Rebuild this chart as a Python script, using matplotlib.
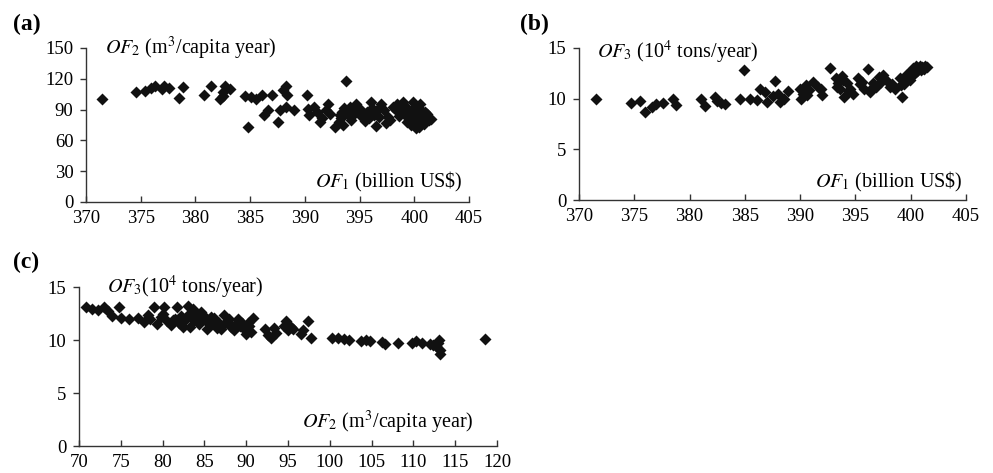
import numpy as np
import matplotlib
matplotlib.use('Agg')
import matplotlib.pyplot as plt

plt.rcParams['font.family'] = ['Liberation Serif', 'DejaVu Serif']
plt.rcParams['mathtext.fontset'] = 'stix'

# (a) OF1 vs OF2
a_of1 = [371.5, 374.6, 375.4, 375.9, 376.3, 376.9, 377.1, 377.6, 378.5, 378.9,
         380.8, 381.4, 382.2, 382.5, 382.7, 383.2, 382.5,
         384.5, 384.8, 385.1, 385.5, 386.1, 386.3, 386.6, 387.0, 387.5, 387.7,
         388.0, 388.3, 388.4, 388.3, 389.0,
         390.2, 390.3, 390.4, 390.8, 391.1, 391.4, 391.6, 391.9, 392.1, 392.3,
         392.8, 393.1, 393.3, 393.4, 393.6, 393.8, 394.0, 394.2, 394.4, 394.7,
         395.0, 395.2, 395.5, 395.7, 396.0, 396.1, 396.3, 396.5, 396.8, 397.0,
         397.2, 397.4, 397.8, 398.1, 398.4, 398.7, 399.0, 399.2, 399.4, 399.6,
         399.7, 399.9, 400.0, 400.1, 400.2, 400.3, 400.4, 400.6, 400.7, 400.8,
         400.9, 401.0, 401.1, 401.3, 401.5, 400.5, 399.5, 398.8, 400.2,
         393.2, 393.9, 394.6, 395.9, 396.6, 397.6, 398.3, 399.1, 399.8, 400.4,
         400.9, 401.2, 399.3, 398.6, 400.0, 393.5, 394.1]
a_of2 = [100, 107, 108, 111, 113, 110, 113, 111, 101, 112,
         104, 113, 100, 107, 113, 110, 103,
         103, 73, 102, 100, 104, 85, 90, 104, 78, 90,
         109, 113, 104, 93, 90,
         104, 91, 85, 93, 88, 78, 82, 90, 95, 86,
         73, 78, 82, 88, 92, 118, 85, 80, 90, 95,
         91, 83, 79, 88, 97, 92, 85, 74, 83, 95,
         90, 77, 80, 93, 95, 92, 97, 93, 89, 84,
         75, 97, 92, 88, 84, 79, 73, 90, 86, 82,
         76, 88, 84, 80, 81, 95, 80, 88, 72,
         85, 90, 87, 82, 90, 83, 90, 86, 80, 76,
         79, 86, 78, 84, 78, 75, 93]

# (b) OF1 vs OF3
b_of1 = [371.5, 374.7, 375.5, 376.0, 376.6, 377.0, 377.6, 378.5, 378.8, 381.0,
         381.4, 382.3, 382.5, 382.8, 383.2, 384.6, 384.9, 385.5, 386.1, 386.4,
         386.8, 387.0, 387.5, 387.7, 388.0, 388.2, 388.5, 388.9,
         390.0, 390.1, 390.3, 390.5, 390.8, 391.2, 391.6, 392.0, 392.7, 393.2,
         393.4, 393.6, 393.8, 394.0, 394.2, 394.5, 394.8, 395.2, 395.4, 395.8,
         396.1, 396.3, 396.6, 396.9, 397.1, 397.5, 397.8, 398.1, 398.6, 399.0,
         399.2, 399.4, 399.7, 399.9, 400.0, 400.2, 400.3, 400.5, 400.6, 400.8,
         401.0, 401.2, 401.3, 401.5, 400.9,
         393.3, 393.9, 394.4, 395.6, 396.4, 397.3, 398.3, 399.6, 400.1, 400.4,
         400.7, 401.1, 399.1, 391.9, 390.6]
b_of3 = [10.0, 9.6, 9.8, 8.7, 9.2, 9.5, 9.6, 10.0, 9.4, 10.0,
         9.3, 10.2, 9.8, 9.6, 9.5, 10.0, 12.8, 10.0, 9.9, 11.0,
         10.7, 9.7, 10.3, 11.7, 10.5, 9.7, 10.0, 10.8,
         11.0, 10.0, 10.5, 11.3, 10.9, 11.6, 11.2, 10.4, 13.0, 12.0,
         11.5, 11.0, 12.2, 10.2, 11.5, 11.0, 10.5, 12.0, 11.4, 11.0,
         12.9, 10.7, 11.5, 11.2, 12.1, 12.3, 11.8, 11.2, 11.0, 12.0,
         10.2, 11.4, 12.4, 11.8, 12.7, 13.0, 12.4, 13.2, 12.7, 13.2,
         13.1, 12.9, 13.2, 13.1, 12.8,
         11.2, 11.8, 10.8, 11.6, 11.0, 11.6, 11.4, 12.1, 12.3, 12.9,
         13.0, 13.0, 11.3, 11.0, 10.4]

# (c) OF2 vs OF3
c_of2 = [70.8, 71.5, 72.3, 73.0, 73.5, 74.0, 74.8, 75.0, 76.0, 77.0,
         77.8, 78.2, 79.0, 79.3, 79.8, 80.2, 80.5, 81.0, 81.5, 81.7,
         82.0, 82.5, 83.0, 83.2, 83.3, 83.6, 84.0, 84.3, 85.0, 85.3,
         85.8, 86.0, 86.5, 87.0, 87.4, 87.8, 88.2, 88.5, 89.0, 89.3,
         89.7, 90.0, 90.3, 90.8, 90.6, 92.2, 92.6, 93.0, 93.3, 94.5,
         94.8, 95.3, 95.6, 96.5, 97.4, 97.7, 100.3, 101.0, 101.7, 102.3,
         103.7, 104.3, 104.8, 106.3, 106.6, 108.2, 109.8, 110.3, 111.0, 112.0,
         112.7, 113.0, 113.1, 113.2, 113.2, 118.6,
         82.8, 84.6, 86.8, 88.8, 80.0, 78.5, 81.2, 82.2, 83.8, 84.8,
         85.6, 86.2, 87.2, 88.0, 89.5, 90.2, 93.6, 95.0, 96.8, 112.3]
c_of3 = [13.1, 12.9, 12.8, 13.1, 12.7, 12.3, 13.1, 12.1, 12.0, 12.1,
         11.7, 12.4, 13.1, 11.5, 12.2, 13.1, 11.8, 11.4, 12.0, 13.1,
         11.6, 11.2, 13.2, 12.5, 11.2, 12.9, 12.2, 11.5, 12.1, 11.0,
         12.2, 11.6, 11.1, 11.0, 12.4, 11.7, 11.2, 10.9, 12.0, 11.3,
         11.0, 10.6, 11.3, 12.1, 10.8, 11.0, 10.5, 10.2, 11.1, 11.3,
         11.8, 11.2, 11.0, 10.6, 11.8, 10.2, 10.2, 10.2, 10.1, 10.0,
         9.9, 10.0, 9.9, 9.8, 9.6, 9.7, 9.7, 9.9, 9.7, 9.6,
         9.4, 9.7, 10.0, 9.1, 8.7, 10.1,
         12.0, 12.6, 11.6, 11.5, 12.5, 12.0, 11.9, 12.3, 11.9, 12.4,
         11.5, 12.1, 11.4, 12.0, 11.6, 11.6, 10.7, 10.9, 10.9, 9.5]

W, H = 993, 473
fig = plt.figure(figsize=(W / 100, H / 100), dpi=100)


def make_ax(l, r, b, t):
    ax = fig.add_axes([l / W, 1 - b / H, (r - l) / W, (b - t) / H])
    for s in ('top', 'right'):
        ax.spines[s].set_visible(False)
    for s in ('left', 'bottom'):
        ax.spines[s].set_color('#333333')
        ax.spines[s].set_linewidth(1.0)
    ax.tick_params(axis='x', direction='in', length=4, width=1, color='#333333',
                   labelsize=13.5, pad=6)
    ax.tick_params(axis='y', direction='out', length=4, width=1, color='#333333',
                   labelsize=13.5, pad=5)
    return ax


mk = dict(marker='D', ms=5.8, color='#111111', mec='none', ls='none')
lab = dict(fontsize=14.5)

ax_a = make_ax(86, 469, 202, 48)
ax_a.plot(a_of1, a_of2, **mk)
ax_a.set_xlim(370, 405)
ax_a.set_ylim(0, 150)
ax_a.set_xticks(range(370, 406, 5))
ax_a.set_yticks(range(0, 151, 30))
ax_a.text(0.05, 1.0, r'$OF_2$ (m$^3$/capita year)', transform=ax_a.transAxes,
          ha='left', va='center', **lab)
ax_a.text(0.984, 0.13, r'$OF_1$ (billion US\$)', transform=ax_a.transAxes,
          ha='right', va='center', **lab)

ax_b = make_ax(579, 966, 200, 48)
ax_b.plot(b_of1, b_of3, **mk)
ax_b.set_xlim(370, 405)
ax_b.set_ylim(0, 15)
ax_b.set_xticks(range(370, 406, 5))
ax_b.set_yticks(range(0, 16, 5))
ax_b.text(0.047, 0.97, r'$OF_3$ (10$^4$ tons/year)', transform=ax_b.transAxes,
          ha='left', va='center', **lab)
ax_b.text(0.992, 0.118, r'$OF_1$ (billion US\$)', transform=ax_b.transAxes,
          ha='right', va='center', **lab)

ax_c = make_ax(79, 497, 446, 287)
ax_c.plot(c_of2, c_of3, **mk)
ax_c.set_xlim(70, 120)
ax_c.set_ylim(0, 15)
ax_c.set_xticks(range(70, 121, 5))
ax_c.set_yticks(range(0, 16, 5))
ax_c.text(0.067, 1.0, r'$OF_3$(10$^4$ tons/year)', transform=ax_c.transAxes,
          ha='left', va='center', **lab)
ax_c.text(0.943, 0.145, r'$OF_2$ (m$^3$/capita year)', transform=ax_c.transAxes,
          ha='right', va='center', **lab)

for lbl, x, y in (('(a)', 13, 24), ('(b)', 520, 24), ('(c)', 13, 262)):
    fig.text(x / W, 1 - y / H, lbl, ha='left', va='center',
             fontsize=17, fontweight='bold')

fig.savefig('out.png', dpi=100)
